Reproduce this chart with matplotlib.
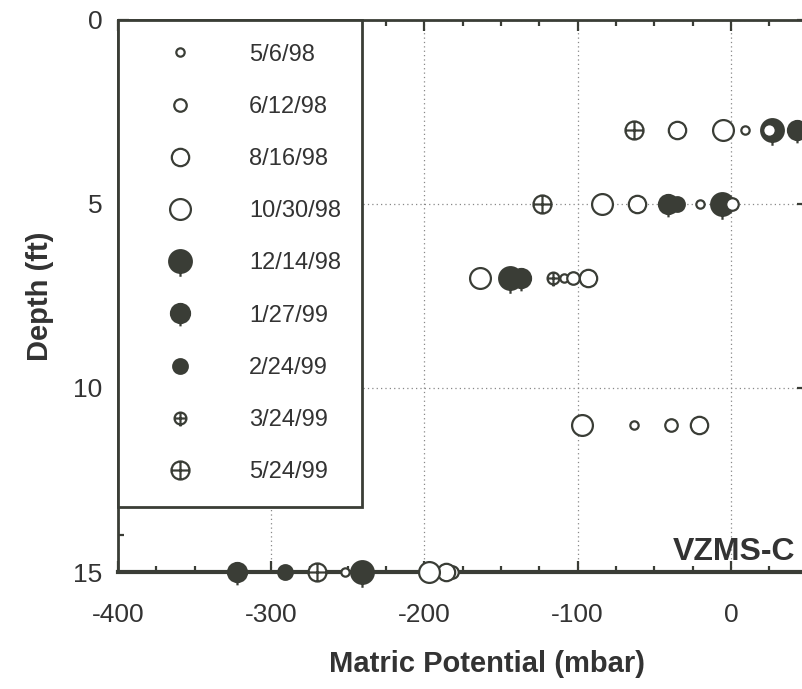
import numpy as np
import matplotlib
matplotlib.use('Agg')
import matplotlib.pyplot as plt
from matplotlib.path import Path
from matplotlib.ticker import MultipleLocator

plt.rcParams['font.family'] = ['Liberation Sans', 'DejaVu Sans']
plt.rcParams['axes.unicode_minus'] = False

nan = np.nan
ink = '#3a3d36'
txt = '#333333'

# depth of each sensor (ft)
depths = [3, 5, 7, 11, 15]

# matric potential (mbar) per survey date, one value per depth
dates = ['5/6/98', '6/12/98', '8/16/98', '10/30/98', '12/14/98',
         '1/27/99', '2/24/99', '3/24/99', '5/24/99']
mp_050698 = [9, -20, -109, -63, -252]
mp_061298 = [25, 1, -103, -39, -182]
mp_081698 = [-35, -61, -93, -21, -186]
mp_103098 = [-5, -84, -164, -97, -197]
mp_121498 = [27, -6, -144, nan, -241]
mp_012799 = [43, -41, -137, nan, -322]
mp_022499 = [nan, -35, nan, nan, -291]
mp_032499 = [nan, nan, -116, nan, nan]
mp_052499 = [-63, -123.5, nan, nan, -270]

values = [mp_050698, mp_061298, mp_081698, mp_103098, mp_121498,
          mp_012799, mp_022499, mp_032499, mp_052499]

# marker shapes
circ = Path.unit_circle()
stem = Path([(0, -1), (0, -1.35)], [Path.MOVETO, Path.LINETO])
cross = Path([(-1, 0), (1, 0), (0, -1), (0, 1)],
             [Path.MOVETO, Path.LINETO, Path.MOVETO, Path.LINETO])
m_stem = Path.make_compound_path(circ, stem)
m_cross = Path.make_compound_path(circ, cross)
m_cross_stem = Path.make_compound_path(circ, cross, stem)

# (marker, size, filled)
styles = [('o', 6, False),
          ('o', 9, False),
          ('o', 12.5, False),
          ('o', 15, False),
          (m_stem, 22, True),
          (m_stem, 18.5, True),
          ('o', 10.5, True),
          (m_cross_stem, 11.5, False),
          (m_cross, 13, False)]

fig = plt.figure(figsize=(8.02, 6.89), dpi=100)
ax = fig.add_axes([0.1471, 0.1698, 0.8598, 0.8012])

handles = []
for d, v, (mk, ms, filled) in zip(dates, values, styles):
    ln, = ax.plot(v, depths, linestyle='none', marker=mk, markersize=ms,
                  markerfacecolor=ink if filled else 'white',
                  markeredgecolor=ink, markeredgewidth=1.6,
                  clip_on=False, zorder=3 if filled else 4, label=d)
    handles.append(ln)

ax.set_xlim(-400, 50)
ax.set_ylim(15, 0)
ax.xaxis.set_major_locator(MultipleLocator(100))
ax.xaxis.set_minor_locator(MultipleLocator(25))
ax.yaxis.set_major_locator(MultipleLocator(5))
ax.yaxis.set_minor_locator(MultipleLocator(1))

ax.grid(True, which='major', linestyle=(0, (1, 2.5)), color='#888888',
        linewidth=0.9)
ax.set_axisbelow(True)

for s in ax.spines.values():
    s.set_linewidth(2)
    s.set_color(ink)
ax.spines['bottom'].set_linewidth(3)

ax.tick_params(which='both', direction='in', top=True, right=True,
               color=ink, width=1.6)
ax.tick_params(which='major', length=8)
ax.tick_params(which='minor', length=4)
ax.tick_params(axis='x', which='major', pad=22, labelsize=19, labelcolor=txt)
ax.tick_params(axis='y', which='major', pad=11, labelsize=19, labelcolor=txt)

ax.set_xlabel('Matric Potential (mbar)', fontsize=21, fontweight='bold',
              color=txt)
ax.xaxis.set_label_coords(0.535, -0.141)
ax.set_ylabel('Depth (ft)', fontsize=21, fontweight='bold', color=txt,
              labelpad=14)

ax.text(0.982, 0.037, 'VZMS-C', transform=ax.transAxes, ha='right',
        va='center', fontsize=23, fontweight='bold', color=txt)

leg = ax.legend(handles=handles, loc='upper left',
                bbox_to_anchor=(0, 0.117, 0.354, 0.883), mode='expand',
                borderaxespad=0, fontsize=17, labelcolor=txt,
                borderpad=1.0, handlelength=3.25, handletextpad=1.3,
                labelspacing=1.28, fancybox=False, framealpha=1,
                edgecolor=ink, numpoints=1)
leg.get_frame().set_linewidth(2)
leg.set_zorder(5)

fig.savefig('out.png', dpi=100)
